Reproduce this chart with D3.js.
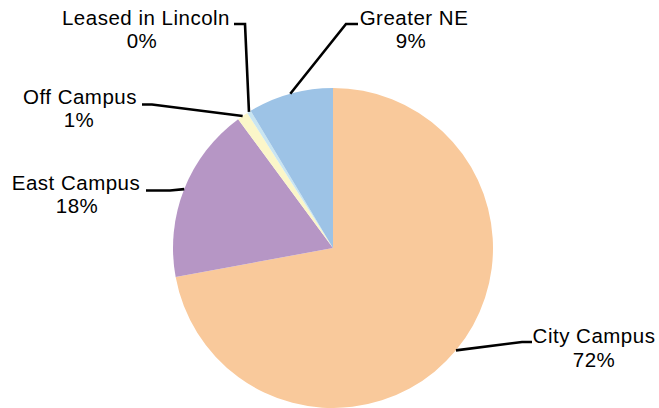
<!DOCTYPE html>
<html>
<head>
<meta charset="utf-8">
<script src="https://cdn.jsdelivr.net/npm/d3@7"></script>
<style>
  html, body { margin: 0; padding: 0; background: #fff; }
  svg { display: block; }
</style>
</head>
<body>
<svg id="chart" width="659" height="408"></svg>
<script>
// ---- data ----
const categories = ["City Campus", "East Campus", "Off Campus", "Leased in Lincoln", "Greater NE"];
const values = [72.1, 17.8, 1.1, 0.4, 8.6];
const percentLabels = ["72%", "18%", "1%", "0%", "9%"];

// ---- style / layout ----
const colors = ["#F9C99B", "#B696C5", "#FBF6C9", "#C9E5F1", "#9DC3E6"];
const W = 659, H = 408;
const cx = 333, cy = 248, R = 160;
// label layout: line1 center x/baseline, line2 center x/baseline, leader text-side point, elbow
const layout = [
  { x1: 594, y1: 343, x2: 594, y2: 367, p0: [532, 342], p1: [522, 342] },
  { x1: 76,  y1: 190, x2: 77,  y2: 213, p0: [146, 190.5], p1: [170, 190.5] },
  { x1: 80,  y1: 103.5, x2: 79, y2: 127, p0: [142, 104.5], p1: [152, 104.5] },
  { x1: 146, y1: 24.5, x2: 142, y2: 48, p0: [234, 24], p1: [245, 24] },
  { x1: 414, y1: 25, x2: 411, y2: 48, p0: [358, 24], p1: [346, 24] }
];

const svg = d3.select("#chart");
const g = svg.append("g").attr("transform", `translate(${cx},${cy})`);

const pie = d3.pie().sort(null).value(d => d)(values);
const arc = d3.arc().innerRadius(0).outerRadius(R);

g.selectAll("path.slice").data(pie).enter().append("path")
  .attr("class", "slice")
  .attr("d", arc)
  .attr("fill", (d, i) => colors[i]);

function label(x, y, s) {
  svg.append("text").attr("x", x).attr("y", y)
    .attr("text-anchor", "middle")
    .attr("font-family", "Arial, 'Liberation Sans', sans-serif")
    .attr("font-size", 20.5)
    .attr("letter-spacing", 0.5)
    .attr("fill", "#000")
    .text(s);
}

// leader lines + labels
pie.forEach((d, i) => {
  const a = (d.startAngle + d.endAngle) / 2;
  const ex = cx + R * Math.sin(a), ey = cy - R * Math.cos(a);
  const L = layout[i];
  svg.append("polyline")
    .attr("points", [L.p0, L.p1, [ex, ey]].map(p => p.join(",")).join(" "))
    .attr("fill", "none")
    .attr("stroke", "#000")
    .attr("stroke-width", 2.6);
  label(L.x1, L.y1, categories[i]);
  label(L.x2, L.y2, percentLabels[i]);
});
</script>
</body>
</html>
